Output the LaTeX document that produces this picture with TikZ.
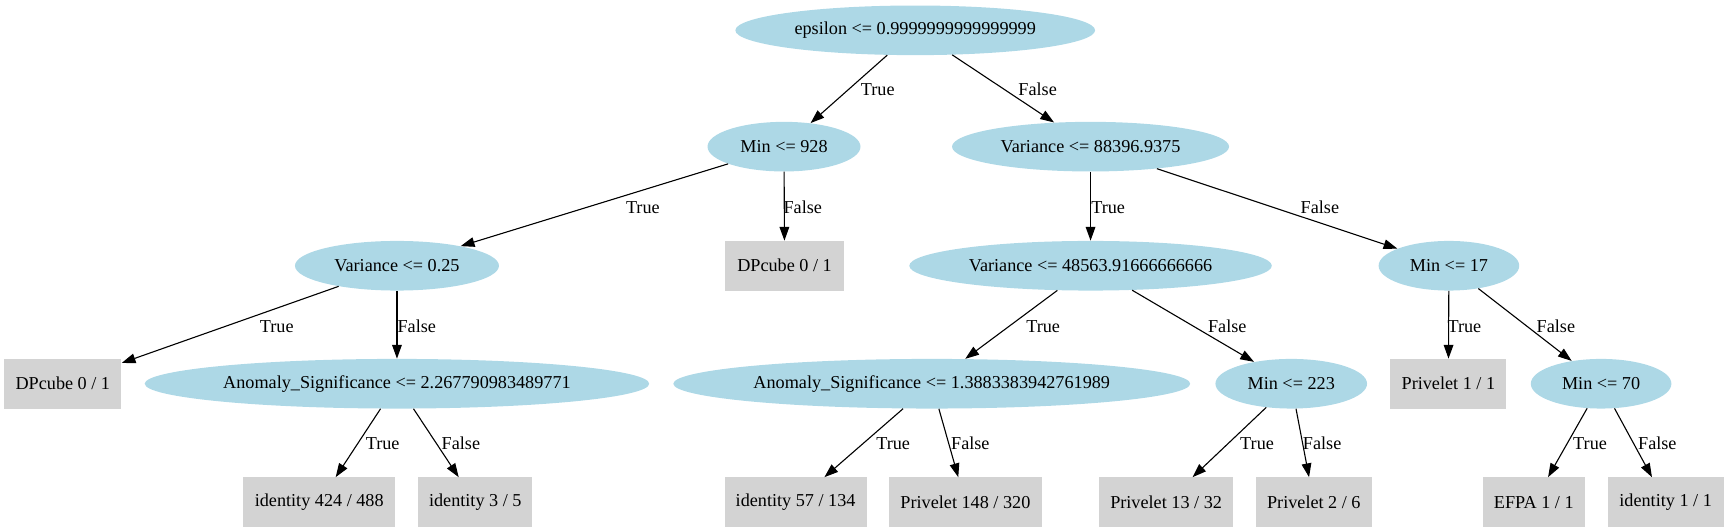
\documentclass[tikz,border=0pt]{standalone}
\usepackage{fontspec}
\setmainfont{Liberation Serif}
\usetikzlibrary{shapes.geometric,arrows.meta}
\definecolor{lblue}{HTML}{ADD8E6}
\definecolor{lgrey}{HTML}{D3D3D3}
\newcommand{\ctxt}[1]{\makebox[0pt][c]{#1}}
\tikzset{
  split/.style={ellipse, fill=lblue, draw=none, inner sep=0pt, minimum height=36pt, font=\fontsize{13.2}{15}\selectfont},
  leaf/.style={rectangle, fill=lgrey, draw=none, inner sep=0pt, minimum height=36pt, font=\fontsize{13.2}{15}\selectfont},
  edge/.style={line width=0.8pt, -{Triangle[length=10pt,width=7pt]}},
  lbl/.style={inner sep=0pt, font=\fontsize{13.2}{15}\selectfont}
}
\begin{document}
\begin{tikzpicture}[x=0.8pt,y=-0.8pt]
\useasboundingbox (0,0) rectangle (1568,482);
% split nodes
\node[split, minimum width=261pt] (eps) at (830,27.5) {\ctxt{epsilon <= 0.9999999999999999}};
\node[split, minimum width=111pt] (m928) at (711,133) {\ctxt{Min <= 928}};
\node[split, minimum width=201pt] (v88) at (989,133) {\ctxt{Variance <= 88396.9375}};
\node[split, minimum width=148pt] (v025) at (360,241) {\ctxt{Variance <= 0.25}};
\node[split, minimum width=263pt] (v485) at (989,241) {\ctxt{Variance <= 48563.91666666666}};
\node[split, minimum width=102pt] (m17) at (1314,241) {\ctxt{Min <= 17}};
\node[split, minimum width=366pt] (an1) at (360,348) {\ctxt{Anomaly\_Significance <= 2.267790983489771}};
\node[split, minimum width=375pt] (an2) at (845,348) {\ctxt{Anomaly\_Significance <= 1.3883383942761989}};
\node[split, minimum width=110pt] (m223) at (1171,348) {\ctxt{Min <= 223}};
\node[split, minimum width=102pt] (m70) at (1452,348) {\ctxt{Min <= 70}};
% leaves
\node[leaf, minimum width=86pt] (dp1) at (711.5,241) {\ctxt{DPcube 0 / 1}};
\node[leaf, minimum width=85pt] (dp2) at (57,348) {\ctxt{DPcube 0 / 1}};
\node[leaf, minimum width=84pt] (pv11) at (1313.5,348) {\ctxt{Privelet 1 / 1}};
\node[leaf, minimum width=110pt] (id424) at (289.5,455.5) {\ctxt{identity 424 / 488}};
\node[leaf, minimum width=83pt] (id35) at (431,455.5) {\ctxt{identity 3 / 5}};
\node[leaf, minimum width=103pt] (id57) at (721.5,455.5) {\ctxt{identity 57 / 134}};
\node[leaf, minimum width=111pt] (pv148) at (875.5,455.5) {\ctxt{Privelet 148 / 320}};
\node[leaf, minimum width=97pt] (pv13) at (1057.5,455.5) {\ctxt{Privelet 13 / 32}};
\node[leaf, minimum width=84pt] (pv26) at (1191.5,455.5) {\ctxt{Privelet 2 / 6}};
\node[leaf, minimum width=74pt] (efpa) at (1391,455.5) {\ctxt{EFPA 1 / 1}};
\node[leaf, minimum width=84pt] (id11) at (1510.5,455.5) {\ctxt{identity 1 / 1}};
% edges
\draw[edge] (eps) -- (m928);
\draw[edge] (eps) -- (v88);
\draw[edge] (m928) -- (v025);
\draw[edge] (m928) -- (dp1);
\draw[edge] (v88) -- (v485);
\draw[edge] (v88) -- (m17);
\draw[edge] (v025) -- (dp2);
\draw[edge] (v025) -- (an1);
\draw[edge] (v485) -- (an2);
\draw[edge] (v485) -- (m223);
\draw[edge] (m17) -- (pv11);
\draw[edge] (m17) -- (m70);
\draw[edge] (an1) -- (id424);
\draw[edge] (an1) -- (id35);
\draw[edge] (an2) -- (id57);
\draw[edge] (an2) -- (pv148);
\draw[edge] (m223) -- (pv13);
\draw[edge] (m223) -- (pv26);
\draw[edge] (m70) -- (efpa);
\draw[edge] (m70) -- (id11);
% edge labels
\node[lbl] (l1) at (796,81) {True};
\node[lbl] (l2) at (941,81) {False};
\node[lbl] (l3) at (583,188) {True};
\node[lbl] (l4) at (728,188) {False};
\node[lbl] (l5) at (1005,188) {True};
\node[lbl] (l6) at (1197,188) {False};
\node[lbl] (l7) at (251,296) {True};
\node[lbl] (l8) at (378,296) {False};
\node[lbl] (l9) at (946,296) {True};
\node[lbl] (l10) at (1113,296) {False};
\node[lbl] (l11) at (1328,296) {True};
\node[lbl] (l12) at (1411,296) {False};
\node[lbl] (l13) at (347,402) {True};
\node[lbl] (l14) at (418,402) {False};
\node[lbl] (l15) at (810,402) {True};
\node[lbl] (l16) at (880,402) {False};
\node[lbl] (l17) at (1140,402) {True};
\node[lbl] (l18) at (1199,402) {False};
\node[lbl] (l19) at (1442,402) {True};
\node[lbl] (l20) at (1503,402) {False};
\end{tikzpicture}
\end{document}
